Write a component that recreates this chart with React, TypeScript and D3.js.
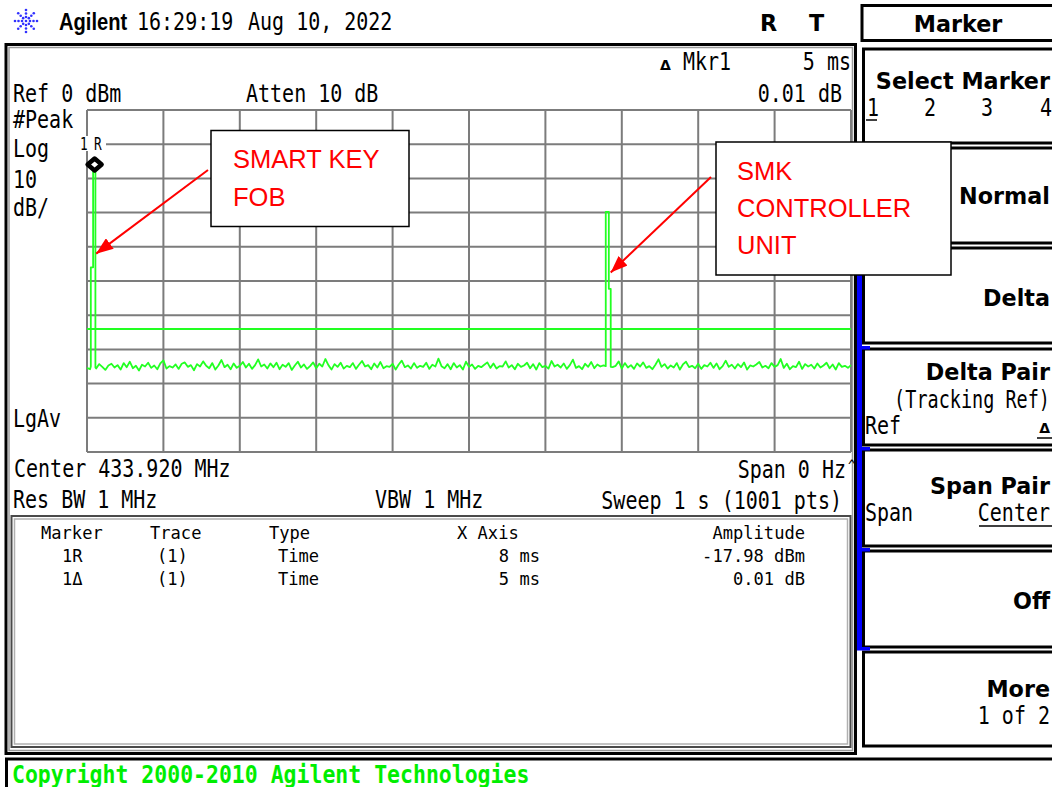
import React from 'react';
import * as d3 from 'd3';

const W = 1052;
const H = 787;

// sweep 1 s (1001 pts), ref 0 dBm, 10 dB/div
const sweepMs = [0, 1000];
const levelRange = [-100, 0];

// noise floor, one value every 4 ms
const noiseStepMs = 4;
const noiseFloor = [
  -75.4, -75.8, -74.9, -75.6, -74.3, -75.1, -76.0, -74.7, -74.2, -75.3,
  -74.6, -75.9, -74.0, -75.2, -73.6, -75.5, -74.8, -76.2, -74.5, -75.0,
  -73.9, -75.4, -74.7, -75.8, -74.1, -73.2, -75.6, -74.9, -75.3, -74.4,
  -75.7, -74.2, -73.8, -75.1, -74.6, -76.1, -74.3, -75.0, -73.5, -74.8,
  -75.5, -74.0, -75.9, -74.7, -73.1, -75.2, -74.5, -75.8, -74.1, -75.4,
  -74.8, -73.7, -75.3, -74.2, -75.7, -74.6, -72.9, -75.0, -74.4, -75.6,
  -74.1, -75.2, -73.9, -75.8, -74.5, -75.1, -74.0, -76.0, -74.7, -73.6,
  -75.3, -74.4, -75.7, -74.9, -73.8, -75.5, -74.2, -75.0, -72.8, -74.6,
  -75.9, -74.3, -75.1, -73.9, -75.6, -74.8, -75.2, -74.0, -75.7, -74.5,
  -73.4, -75.0, -74.6, -75.8, -74.1, -75.3, -73.7, -75.5, -74.9, -75.1,
  -74.2, -75.9, -74.4, -73.3, -75.2, -74.7, -75.6, -74.0, -75.4, -74.8,
  -75.1, -73.9, -75.7, -74.5, -75.0, -72.7, -74.9, -75.5, -74.3, -75.8,
  -74.0, -75.3, -74.6, -75.9, -73.6, -75.1, -74.4, -75.7, -74.8, -75.2,
  -74.5, -73.8, -75.4, -74.1, -75.6, -74.9, -75.0, -73.5, -75.3, -74.6,
  -75.8, -74.2, -75.1, -74.7, -73.9, -75.5, -74.3, -75.9, -74.0, -75.2,
  -74.8, -75.6, -73.4, -75.0, -74.5, -75.3, -74.1, -75.7, -74.6, -73.0,
  -75.4, -74.9, -75.8, -74.2, -75.1, -73.7, -75.5, -74.4, -75.0, -74.7,
  -75.9, -74.3, -75.2, -74.8, -73.5, -75.6, -74.0, -75.3, -74.6, -75.7,
  -74.1, -75.0, -73.8, -75.4, -74.9, -75.8, -74.5, -72.9, -75.1, -74.3,
  -75.6, -74.7, -75.3, -74.0, -75.9, -74.4, -73.6, -75.2, -74.8, -75.5,
  -74.2, -75.7, -74.6, -75.0, -73.9, -75.4, -74.1, -75.8, -74.9, -73.3,
  -75.1, -74.5, -75.6, -74.3, -75.2, -73.8, -75.9, -74.7, -75.0, -74.4,
  -73.7, -75.3, -74.8, -75.5, -74.0, -75.1, -74.6, -72.8, -75.4, -74.2,
  -75.8, -74.9, -75.2, -73.6, -75.7, -74.3, -75.0, -74.5, -75.6, -74.1,
  -75.3, -74.7, -73.9, -75.5, -74.4, -75.9, -74.0, -75.1, -74.8, -75.4,
  -74.6,
];

// bursts (ms, dBm)
const fobTimes = [5, 5, 8, 8, 11, 11];
const fobLevels = [-75.0, -46.0, -46.0, -17.98, -17.98, -75.3];
const smkTimes = [679, 679, 683, 683, 685.5, 685.5];
const smkLevels = [-74.9, -29.8, -29.8, -52.3, -52.3, -75.1];

const displayLineDbm = -64;
const markerTimeMs = 8;
const markerAmpDbm = -17.98;

const tableHeader = ['Marker', 'Trace', 'Type', 'X Axis', 'Amplitude'];
const tableMarkers = ['1R', '1\u0394'];
const tableTraces = ['(1)', '(1)'];
const tableTypes = ['Time', 'Time'];
const tableXAxis = ['8 ms', '5 ms'];
const tableAmps = ['-17.98 dBm', '0.01 dB'];

const softkeys = ['Select Marker', 'Normal', 'Delta', 'Delta Pair', 'Span Pair', 'Off', 'More'];

const SCREEN = "'DejaVu Sans Mono', monospace";
const SANS = "'DejaVu Sans', sans-serif";
const ARIAL = "'Liberation Sans', Arial, sans-serif";
const GREEN = '#22ff22';
const GRID = '#7c7c7c';

const T = ({ x, y, s = 25, sx = 0.8, anchor = 'start', bold = false, fill = '#000', family = SCREEN, children }: any) => (
  <text
    transform={`translate(${x},${y}) scale(${sx},1)`}
    fontFamily={family}
    fontSize={s}
    fontWeight={bold ? 'bold' : 'normal'}
    textAnchor={anchor}
    fill={fill}
  >
    {children}
  </text>
);

const Key = ({ x, y, children, anchor = 'end' }: any) => (
  <T x={x} y={y} s={23} sx={0.97} bold family={SANS} anchor={anchor}>{children}</T>
);

export default function App() {
  const x = d3.scaleLinear().domain(sweepMs).range([87, 851]);
  const y = d3.scaleLinear().domain(levelRange).range([452, 110]);

  const bursts = [
    { t: fobTimes, v: fobLevels },
    { t: smkTimes, v: smkLevels },
  ];
  const pts: [number, number][] = [];
  noiseFloor.forEach((v, i) => {
    const t = i * noiseStepMs;
    if (!bursts.some(b => t >= b.t[0] && t <= b.t[b.t.length - 1])) pts.push([t, v]);
  });
  bursts.forEach(b => b.t.forEach((t, i) => pts.push([t, b.v[i]])));
  pts.sort((a, b) => a[0] - b[0]);

  const line = d3.line<[number, number]>().x(d => x(d[0])).y(d => y(d[1]));

  const mx = x(markerTimeMs) + 1.5;
  const my = y(markerAmpDbm) - 7;

  const keyTops = [49, 148, 248, 349, 450, 551, 652];
  const keyBottoms = [143, 243, 343, 445, 546, 647, 746];
  const keyBase = [89, 204, 306, 380, 494, 609, 697];

  // logo dots
  const logo: [number, number][] = [[26, 21]];
  d3.range(8).forEach(k => {
    const a = (k * Math.PI) / 4;
    [4, 7.5, 11].forEach(r => logo.push([26 + r * Math.cos(a), 21 + r * Math.sin(a)]));
  });

  const tableColX = [41, 150, 269, 457, 805];

  return (
    <div style={{ position: 'absolute', left: 0, top: 0 }}>
      <svg width={W} height={H} style={{ display: 'block', background: '#fff' }}>
        <defs>
          <marker id="ah" markerWidth={17} markerHeight={13} refX={17} refY={6.5} orient="auto" markerUnits="userSpaceOnUse">
            <path d="M0,0 L17,6.5 L0,13 Z" fill="#ff0000" />
          </marker>
        </defs>

        {/* header */}
        {logo.map((p, i) => (
          <circle key={i} cx={p[0]} cy={p[1]} r={1.3} fill="#3030ff" />
        ))}
        <T x={59} y={30} s={24} sx={0.84} bold family={ARIAL}>Agilent</T>
        <T x={137} y={30}>16:29:19</T>
        <T x={248} y={30}>Aug 10, 2022</T>
        <T x={760} y={31} s={23} sx={0.97} bold family={SANS}>R</T>
        <T x={809} y={31} s={23} sx={0.97} bold family={SANS}>T</T>

        {/* main frame */}
        <rect x={6} y={44.5} width={849.5} height={709} fill="none" stroke="#000" strokeWidth={3} />
        <rect x={9} y={47.5} width={843.5} height={703} fill="none" stroke="#9a9a9a" strokeWidth={1.5} />

        {/* annotations at top */}
        <T x={660} y={70} s={14} sx={1} bold family={SANS}>{'\u0394'}</T>
        <T x={683} y={70}>Mkr1</T>
        <T x={851} y={70} anchor="end">5 ms</T>
        <T x={13} y={102}>Ref 0 dBm</T>
        <T x={246} y={102}>Atten 10 dB</T>
        <T x={842} y={102} anchor="end">0.01 dB</T>
        <T x={13} y={128}>#Peak</T>
        <T x={13} y={157}>Log</T>
        <T x={13} y={188}>10</T>
        <T x={13} y={216}>dB/</T>
        <T x={13} y={427}>LgAv</T>

        {/* grid */}
        <g stroke={GRID} strokeWidth={2}>
          {x.ticks(10).map(t => (
            <line key={'v' + t} x1={x(t)} x2={x(t)} y1={y(0)} y2={y(-100)} />
          ))}
          {y.ticks(10).map(t => (
            <line key={'h' + t} x1={x(0)} x2={x(1000)} y1={y(t)} y2={y(t)} />
          ))}
        </g>

        {/* display line + trace */}
        <line x1={x(0)} x2={x(1000)} y1={y(displayLineDbm)} y2={y(displayLineDbm)} stroke={GREEN} strokeWidth={2} />
        <path d={line(pts) || ''} fill="none" stroke={GREEN} strokeWidth={1.8} strokeLinejoin="round" />

        {/* marker */}
        <rect x={79} y={136} width={27} height={15} fill="#fff" />
        <T x={80} y={150} s={17} sx={0.75}>1</T>
        <T x={94} y={150} s={17} sx={0.75}>R</T>
        <path
          d={`M${mx},${my - 6} L${mx + 7},${my} L${mx},${my + 6} L${mx - 7},${my} Z`}
          fill="#fff"
          stroke="#000"
          strokeWidth={4.5}
          strokeLinejoin="round"
        />

        {/* bottom readouts */}
        <T x={14} y={477}>Center 433.920 MHz</T>
        <T x={846} y={478} anchor="end">Span 0 Hz</T>
        <T x={848} y={471} s={16} sx={0.8}>^</T>
        <T x={13} y={508}>Res BW 1 MHz</T>
        <T x={375} y={508}>VBW 1 MHz</T>
        <T x={842} y={509} anchor="end">Sweep 1 s (1001 pts)</T>

        {/* marker table */}
        <rect x={11.5} y={516} width={839} height={231} fill="#fff" stroke="#4a4a4a" strokeWidth={2} />
        <rect x={14.5} y={519} width={833} height={225} fill="none" stroke="#b0b0b0" strokeWidth={1.5} />
        {tableHeader.map((h, i) => (
          <T key={h} x={tableColX[i]} y={539} s={18} sx={0.95} anchor={i === 4 ? 'end' : 'start'}>{h}</T>
        ))}
        {tableMarkers.map((m, r) => {
          const yy = 562 + r * 23;
          return (
            <g key={r}>
              <T x={62} y={yy} s={18} sx={0.95}>{m}</T>
              <T x={157} y={yy} s={18} sx={0.95}>{tableTraces[r]}</T>
              <T x={278} y={yy} s={18} sx={0.95}>{tableTypes[r]}</T>
              <T x={540} y={yy} s={18} sx={0.95} anchor="end">{tableXAxis[r]}</T>
              <T x={805} y={yy} s={18} sx={0.95} anchor="end">{tableAmps[r]}</T>
            </g>
          );
        })}

        {/* copyright strip */}
        <line x1={5} x2={W} y1={759} y2={759} stroke="#000" strokeWidth={3} />
        <line x1={6.5} x2={6.5} y1={759} y2={H} stroke="#000" strokeWidth={3} />
        <T x={12} y={783} s={25} sx={0.86} bold fill="#00ee00">Copyright 2000-2010 Agilent Technologies</T>

        {/* right softkey panel */}
        <rect x={862} y={5.5} width={200} height={35} fill="#fff" stroke="#000" strokeWidth={3} />
        <T x={958} y={32} s={23} sx={0.97} bold family={SANS} anchor="middle">Marker</T>
        <rect x={857} y={148} width={5} height={502} fill="#0000ff" />
        {softkeys.map((k, i) => (
          <g key={k}>
            <rect x={863.5} y={keyTops[i]} width={195} height={keyBottoms[i] - keyTops[i]} fill="#fff" stroke="#000" strokeWidth={3} />
            <Key x={1050} y={keyBase[i]}>{k}</Key>
          </g>
        ))}
        {[346, 447, 548, 647].map(t => (
          <rect key={t} x={857} y={t} width={13} height={3.5} fill="#0000ff" />
        ))}
        <T x={867} y={116}>1</T>
        <line x1={866} x2={877} y1={120} y2={120} stroke="#000" strokeWidth={1.5} />
        <T x={924} y={116}>2</T>
        <T x={981} y={116}>3</T>
        <T x={1040} y={116}>4</T>
        <T x={1050} y={408} sx={0.74} anchor="end">(Tracking Ref)</T>
        <T x={865} y={434}>Ref</T>
        <T x={1050} y={433} s={14} sx={1} bold family={SANS} anchor="end">{'\u0394'}</T>
        <line x1={1037} x2={1052} y1={438} y2={438} stroke="#000" strokeWidth={1.5} />
        <T x={865} y={521}>Span</T>
        <T x={1050} y={521} anchor="end">Center</T>
        <line x1={979} x2={1052} y1={526} y2={526} stroke="#000" strokeWidth={1.5} />
        <T x={1050} y={724} anchor="end">1 of 2</T>

        {/* callouts */}
        <rect x={211} y={130.5} width={198} height={96} fill="#fff" stroke="#000" strokeWidth={1.5} />
        <T x={233} y={168} s={25.5} sx={1} family={ARIAL} fill="#ff0000">SMART KEY</T>
        <T x={233} y={206} s={25.5} sx={1} family={ARIAL} fill="#ff0000">FOB</T>
        <line x1={208} y1={170} x2={x(12)} y2={y(-42)} stroke="#ff0000" strokeWidth={2} markerEnd="url(#ah)" />

        <rect x={716} y={142} width={235} height={133} fill="#fff" stroke="#000" strokeWidth={1.5} />
        <T x={737} y={180} s={25.5} sx={1} family={ARIAL} fill="#ff0000">SMK</T>
        <T x={737} y={217} s={25.5} sx={1} family={ARIAL} fill="#ff0000">CONTROLLER</T>
        <T x={737} y={254} s={25.5} sx={1} family={ARIAL} fill="#ff0000">UNIT</T>
        <line x1={711} y1={177} x2={x(685.5)} y2={y(-47.5)} stroke="#ff0000" strokeWidth={2} markerEnd="url(#ah)" />
      </svg>
    </div>
  );
}
